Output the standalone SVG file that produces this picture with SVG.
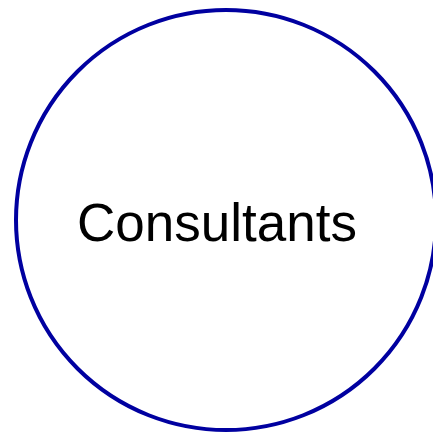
<svg xmlns="http://www.w3.org/2000/svg" width="433" height="434" viewBox="0 0 433 434">
<style>
.n{fill:#fff;stroke:#0000a0;stroke-width:4}
.t{font-family:"Liberation Sans",Arial,sans-serif;font-size:53px;fill:#000;text-anchor:middle}
</style>
<rect width="433" height="434" fill="#fff"/>
<g id="consultants">
<circle class="n" cx="226" cy="220" r="210"/>
<text class="t" x="217" y="241">Consultants</text>
</g>
<g id="connectors"/>
</svg>
